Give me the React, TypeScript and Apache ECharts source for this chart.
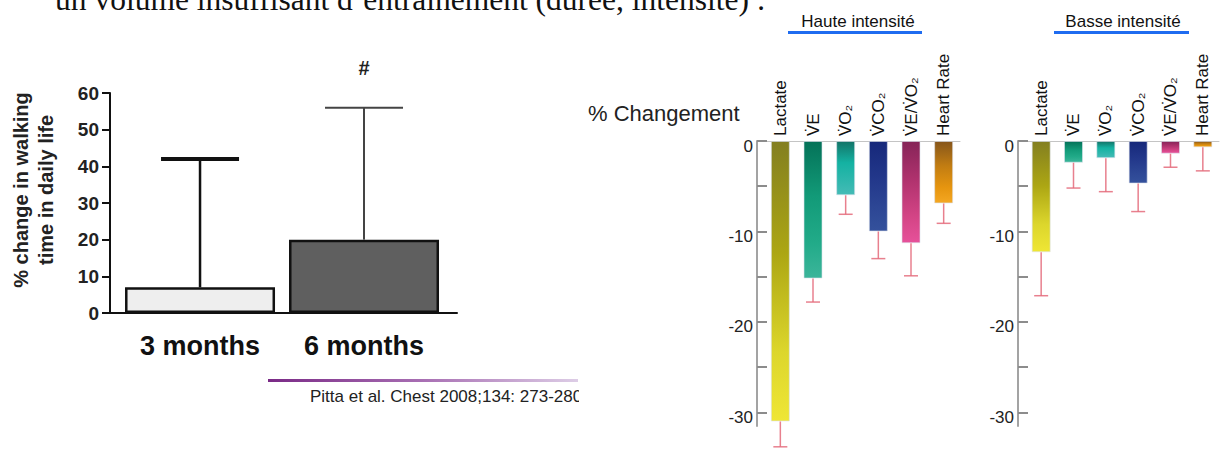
import React, { useEffect, useRef } from "react";
import * as echarts from "echarts";

// ---- Left chart (Pitta et al.) ----
const leftCategories = ["3 months", "6 months"];
const leftValues = [7, 20];
const leftSD = [35, 36];
const leftSignificance = ["", "#"];

// ---- Right charts ----
const rightCategories = ["Lactate", "V\u0307E", "V\u0307O\u2082", "V\u0307CO\u2082", "V\u0307E/V\u0307O\u2082", "Heart Rate"];
const hauteValues = [-31.0, -15.2, -6.0, -10.0, -11.3, -6.9];
const hauteSD = [2.8, 2.6, 2.1, 3.0, 3.6, 2.2];
const basseValues = [-12.3, -2.4, -1.9, -4.7, -1.4, -0.7];
const basseSD = [4.8, 2.8, 3.7, 3.1, 1.5, 2.6];
const rightLabelTicks = [0, -10, -20, -30];
const rightMinorTicks = [0, -5, -10, -15, -20, -25, -30];

const barGradients = [
  ["#837f20", "#aca613", "#dcd62c", "#efe635"],
  ["#047258", "#129a78", "#22ab89", "#3cb59a"],
  ["#137468", "#14b2a2", "#30b7ad", "#45bbb6"],
  ["#16287a", "#22378a", "#2d4795", "#34519c"],
  ["#862458", "#b2336f", "#d44586", "#e6519a"],
  ["#86561b", "#c27d12", "#e6950f", "#f4a722"],
];

const FONT = "'Liberation Sans', Arial, sans-serif";

function grad(i: number) {
  const c = barGradients[i];
  return {
    type: "linear",
    x: 0,
    y: 0,
    x2: 0,
    y2: 1,
    colorStops: [
      { offset: 0, color: c[0] },
      { offset: 0.4, color: c[1] },
      { offset: 0.75, color: c[2] },
      { offset: 1, color: c[3] },
    ],
  };
}

function rightErrorRender(params: any, api: any) {
  const x = api.value(0);
  const base = api.coord([x, api.value(1)]);
  const end = api.coord([x, api.value(2)]);
  const style = { stroke: "#e46a7a", lineWidth: 1.5, opacity: 0.85 };
  return {
    type: "group",
    children: [
      { type: "line", shape: { x1: base[0], y1: base[1], x2: end[0], y2: end[1] }, style },
      { type: "line", shape: { x1: end[0] - 7, y1: end[1], x2: end[0] + 7, y2: end[1] }, style },
    ],
  };
}

function leftErrorRender(params: any, api: any) {
  const i = params.dataIndex;
  const x = api.value(0);
  const base = api.coord([x, api.value(1)]);
  const end = api.coord([x, api.value(2)]);
  const color = i === 0 ? "#111" : "#444";
  const children: any[] = [
    { type: "line", shape: { x1: base[0], y1: base[1], x2: end[0], y2: end[1] }, style: { stroke: color, lineWidth: i === 0 ? 2.5 : 2 } },
    { type: "line", shape: { x1: end[0] - 39, y1: end[1], x2: end[0] + 39, y2: end[1] }, style: { stroke: color, lineWidth: i === 0 ? 4 : 2 } },
  ];
  if (leftSignificance[i]) {
    children.push({
      type: "text",
      style: {
        text: leftSignificance[i],
        x: end[0],
        y: end[1] - 40,
        align: "center",
        verticalAlign: "middle",
        font: `bold 20px ${FONT}`,
        fill: "#222",
      },
    });
  }
  return { type: "group", children };
}

function rightYAxis(gridIndex: number) {
  return {
    gridIndex,
    type: "value",
    min: -31.5,
    max: 0,
    offset: 7,
    axisLine: { show: true, onZero: false, lineStyle: { color: "#a3a3a3", width: 2 } },
    axisTick: {
      show: true,
      inside: true,
      length: 10,
      customValues: rightMinorTicks,
      lineStyle: { color: "#8c8c8c", width: 2 },
    },
    axisLabel: {
      customValues: rightLabelTicks,
      margin: 4,
      formatter: (v: number) => `{a|${v}}`,
      rich: {
        a: { fontSize: 17, color: "#222", fontFamily: FONT, padding: [10, 0, 0, 0] },
      },
    },
    splitLine: { show: false },
  };
}

function rightXAxis(gridIndex: number) {
  return {
    gridIndex,
    type: "category",
    data: rightCategories,
    position: "top",
    axisLine: { show: true, lineStyle: { color: "#c4c4c4", width: 1 } },
    axisTick: { show: false },
    axisLabel: { rotate: 90, fontSize: 17, color: "#111", fontFamily: FONT, margin: 5, interval: 0 },
    splitLine: { show: false },
  };
}

export default function App() {
  const ref = useRef<HTMLDivElement>(null);
  useEffect(() => {
    document.body.style.margin = "0";
    if (!ref.current) return;
    const chart = echarts.init(ref.current, null, { renderer: "svg" });
    const option: any = {
      animation: false,
      backgroundColor: "#ffffff",
      grid: [
        { left: 110, top: 93, width: 347, height: 220 },
        { left: 764, top: 141, width: 196, height: 285 },
        { left: 1025, top: 141, width: 194, height: 285 },
      ],
      xAxis: [
        {
          gridIndex: 0,
          type: "value",
          min: -0.549,
          max: 1.567,
          axisLine: { show: true, onZero: false, lineStyle: { color: "#111", width: 2 } },
          axisTick: { show: false },
          splitLine: { show: false },
          axisLabel: {
            customValues: [0, 1],
            formatter: (v: number) => leftCategories[Math.round(v)] ?? "",
            fontSize: 27,
            fontWeight: "bold",
            color: "#111",
            fontFamily: FONT,
            margin: 19,
          },
        },
        rightXAxis(1),
        rightXAxis(2),
      ],
      yAxis: [
        {
          gridIndex: 0,
          type: "value",
          min: 0,
          max: 60,
          interval: 10,
          name: "% change in walking\ntime in daily life",
          nameLocation: "middle",
          nameRotate: 90,
          nameGap: 52,
          nameTextStyle: {
            fontSize: 20,
            fontWeight: "bold",
            color: "#222",
            fontFamily: FONT,
            lineHeight: 25,
            padding: [0, 0, 0, 26],
          },
          axisLine: { show: true, onZero: false, lineStyle: { color: "#111", width: 2 } },
          axisTick: { show: true, length: 8, lineStyle: { color: "#111", width: 2 } },
          axisLabel: { fontSize: 19, fontWeight: "bold", color: "#222", fontFamily: FONT, margin: 11 },
          splitLine: { show: false },
        },
        rightYAxis(1),
        rightYAxis(2),
      ],
      series: [
        {
          type: "bar",
          xAxisIndex: 0,
          yAxisIndex: 0,
          barWidth: 150,
          data: leftValues.map((v, i) => ({
            value: [i, v],
            itemStyle: { color: i === 0 ? "#eeeeee" : "#5f5f5f", borderColor: "#111", borderWidth: 2.5 },
          })),
        },
        {
          type: "custom",
          xAxisIndex: 0,
          yAxisIndex: 0,
          clip: false,
          renderItem: leftErrorRender,
          data: leftValues.map((v, i) => [i, v, v + leftSD[i]]),
          z: 5,
        },
        {
          type: "bar",
          xAxisIndex: 1,
          yAxisIndex: 1,
          barWidth: 19,
          data: hauteValues.map((v, i) => ({
            value: v,
            itemStyle: { color: grad(i), borderColor: "rgba(220,225,235,0.6)", borderWidth: 1 },
          })),
        },
        {
          type: "custom",
          xAxisIndex: 1,
          yAxisIndex: 1,
          clip: false,
          renderItem: rightErrorRender,
          data: hauteValues.map((v, i) => [i, v, v - hauteSD[i]]),
          z: 5,
        },
        {
          type: "bar",
          xAxisIndex: 2,
          yAxisIndex: 2,
          barWidth: 19,
          data: basseValues.map((v, i) => ({
            value: v,
            itemStyle: { color: grad(i), borderColor: "rgba(220,225,235,0.6)", borderWidth: 1 },
          })),
        },
        {
          type: "custom",
          xAxisIndex: 2,
          yAxisIndex: 2,
          clip: false,
          renderItem: rightErrorRender,
          data: basseValues.map((v, i) => [i, v, v - basseSD[i]]),
          z: 5,
        },
      ],
      graphic: [
        {
          type: "text",
          left: 55,
          top: -17,
          style: {
            text: "un volume insuffisant d\u2019entra\u00eenement (dur\u00e9e, intensit\u00e9) :",
            font: "31.5px 'Liberation Serif', 'Times New Roman', serif",
            fill: "#111",
          },
        },
        {
          type: "rect",
          shape: { x: 268, y: 379, width: 310, height: 3 },
          style: {
            fill: {
              type: "linear",
              x: 0,
              y: 0,
              x2: 1,
              y2: 0,
              colorStops: [
                { offset: 0, color: "#7a2a86" },
                { offset: 0.5, color: "#a86fb3" },
                { offset: 1, color: "#ddcde6" },
              ],
            },
          },
        },
        {
          type: "text",
          style: {
            text: "Pitta et al. Chest 2008;134: 273-280",
            x: 310,
            y: 396,
            verticalAlign: "middle",
            font: `17px ${FONT}`,
            fill: "#222",
          },
        },
        { type: "rect", z: 100, shape: { x: 579, y: 384, width: 40, height: 26 }, style: { fill: "#ffffff" } },
        {
          type: "text",
          style: { text: "% Changement", x: 588, y: 113.5, verticalAlign: "middle", font: `22px ${FONT}`, fill: "#222" },
        },
        {
          type: "text",
          style: { text: "Haute intensit\u00e9", x: 858, y: 21, align: "center", verticalAlign: "middle", font: `17px ${FONT}`, fill: "#111" },
        },
        { type: "rect", shape: { x: 788, y: 31, width: 134, height: 3 }, style: { fill: "#1f6cf0" } },
        {
          type: "text",
          style: { text: "Basse intensit\u00e9", x: 1123, y: 21, align: "center", verticalAlign: "middle", font: `17px ${FONT}`, fill: "#111" },
        },
        { type: "rect", shape: { x: 1054, y: 31, width: 135, height: 3 }, style: { fill: "#1f6cf0" } },
      ],
    };
    chart.setOption(option);
    return () => chart.dispose();
  }, []);
  return <div ref={ref} style={{ width: 1228, height: 451 }} />;
}
